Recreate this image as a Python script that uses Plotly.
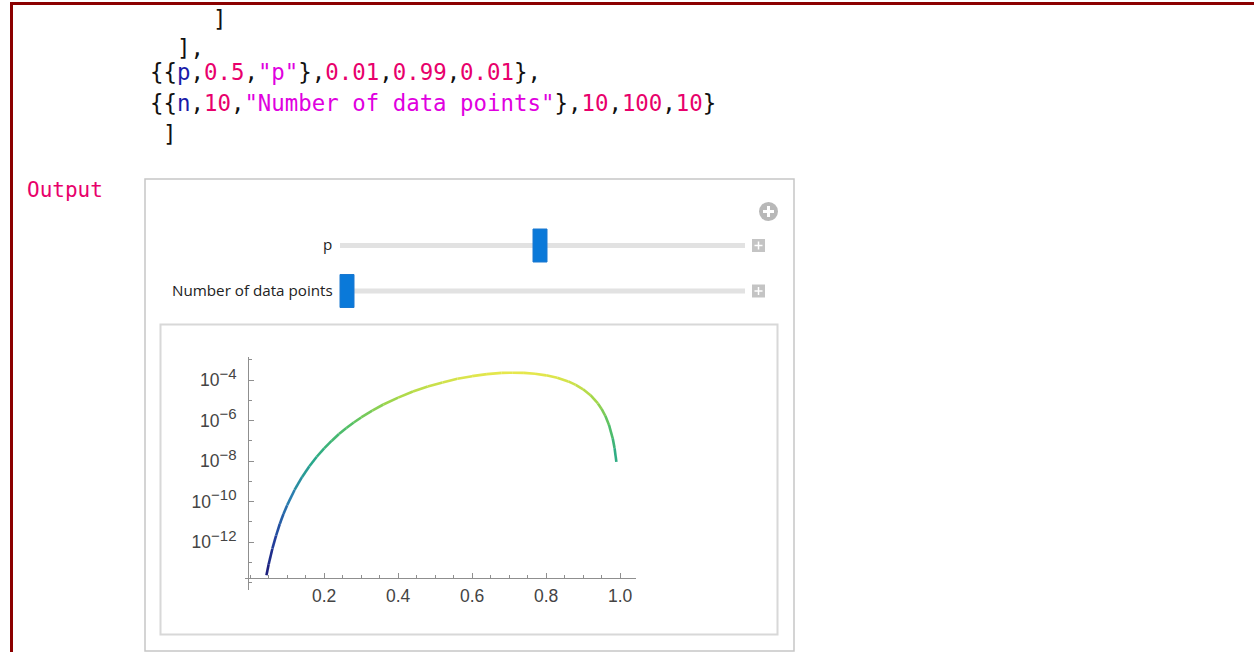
import plotly.graph_objects as go
from plotly.colors import sample_colorscale

W, H = 1254, 652

# ---- data ----
p_values = [0.044, 0.05, 0.06, 0.07, 0.08, 0.09, 0.10, 0.12, 0.14, 0.16, 0.18, 0.20,
            0.22, 0.24, 0.26, 0.28, 0.30, 0.33, 0.36, 0.40, 0.44, 0.48, 0.52, 0.56,
            0.60, 0.64, 0.68, 0.71, 0.74, 0.77, 0.80, 0.83, 0.86, 0.88, 0.90, 0.92,
            0.94, 0.95, 0.96, 0.97, 0.98, 0.985, 0.99]
log10_likelihood = [-13.64, -13.10, -12.33, -11.68, -11.11, -10.62, -10.18, -9.43, -8.80,
                    -8.26, -7.79, -7.38, -7.01, -6.67, -6.37, -6.10, -5.85, -5.51, -5.21,
                    -4.87, -4.57, -4.32, -4.12, -3.94, -3.81, -3.71, -3.65, -3.64, -3.65,
                    -3.69, -3.77, -3.89, -4.07, -4.24, -4.46, -4.75, -5.16, -5.43, -5.77,
                    -6.22, -6.88, -7.36, -8.04]
likelihood = [10 ** v for v in log10_likelihood]

x_tick_vals = [0.2, 0.4, 0.6, 0.8, 1.0]
x_tick_text = ["0.2", "0.4", "0.6", "0.8", "1.0"]
y_tick_vals = [1e-12, 1e-10, 1e-8, 1e-6, 1e-4]
y_exponents = ["\u221212", "\u221210", "\u22128", "\u22126", "\u22124"]
y_tick_text = ['10<sup><span style="font-size:15px">%s</span></sup>' % e for e in y_exponents]
y_minor_vals = [1e-14, 1e-13, 1e-11, 1e-9, 1e-7, 1e-5, 1e-3]

colorscale = [[0.0, '#1b1270'], [0.2, '#223f9c'], [0.4, '#2a7db0'], [0.58, '#29a98a'],
              [0.75, '#55c065'], [0.88, '#a8d84a'], [1.0, '#e6e74c']]


def X(px):
    return px / W


def Y(py):
    return 1 - py / H


fig = go.Figure()

vmin, vmax = -14.0, max(log10_likelihood)
for i in range(len(p_values) - 1):
    t = ((log10_likelihood[i] + log10_likelihood[i + 1]) / 2 - vmin) / (vmax - vmin)
    t = min(max(t, 0), 1)
    col = sample_colorscale(colorscale, [t])[0]
    fig.add_trace(go.Scatter(
        x=[p_values[i], p_values[i + 1]], y=[likelihood[i], likelihood[i + 1]],
        mode='lines', line=dict(color=col, width=2.6), showlegend=False, hoverinfo='skip'))

shapes = []


def add_shape(**kw):
    kw.setdefault('xref', 'paper')
    kw.setdefault('yref', 'paper')
    shapes.append(kw)


# notebook red cell bracket
add_shape(type='line', x0=X(11.5), x1=X(11.5), y0=Y(2), y1=Y(660),
          line=dict(color='#8b0000', width=3))
add_shape(type='line', x0=X(10), x1=X(1260), y0=Y(3.5), y1=Y(3.5),
          line=dict(color='#8b0000', width=3))
# outer panel
add_shape(type='rect', x0=X(145), x1=X(794), y0=Y(179), y1=Y(651),
          line=dict(color='#c6c6c6', width=1.5), fillcolor='#ffffff', layer='below')
# inner plot frame
add_shape(type='rect', x0=X(160.5), x1=X(777.5), y0=Y(324.5), y1=Y(634.5),
          line=dict(color='#d8d8d8', width=2), fillcolor='#ffffff', layer='below')
# circle plus icon
add_shape(type='circle', x0=X(759), x1=X(778), y0=Y(202), y1=Y(221),
          line=dict(color='#b8b8b8', width=0), fillcolor='#b8b8b8')
add_shape(type='line', x0=X(763), x1=X(774), y0=Y(211.5), y1=Y(211.5),
          line=dict(color='white', width=3))
add_shape(type='line', x0=X(768.5), x1=X(768.5), y0=Y(206), y1=Y(217),
          line=dict(color='white', width=3))
# sliders
for ty, thumb_x in [(245.5, 533), (291, 340)]:
    add_shape(type='rect', x0=X(340), x1=X(745), y0=Y(ty - 2.5), y1=Y(ty + 2.5),
              line=dict(width=0), fillcolor='#e2e2e2')
    add_shape(type='rect', x0=X(thumb_x), x1=X(thumb_x + 14), y0=Y(ty - 16.5),
              y1=Y(ty + 16.5), line=dict(color='#1a78d0', width=1), fillcolor='#0a79d9')
    add_shape(type='rect', x0=X(752), x1=X(765), y0=Y(ty - 6.5), y1=Y(ty + 6.5),
              line=dict(width=0), fillcolor='#c4c4c4')
    add_shape(type='line', x0=X(754.5), x1=X(762.5), y0=Y(ty), y1=Y(ty),
              line=dict(color='white', width=1.5))
    add_shape(type='line', x0=X(758.5), x1=X(758.5), y0=Y(ty - 4), y1=Y(ty + 4),
              line=dict(color='white', width=1.5))

annotations = []
mono = "DejaVu Sans Mono, Liberation Mono, monospace"
NUM = '#e8006b'
STR = '#e000e0'
SYM = '#1a1aa8'
line3 = ('{{<span style="color:%s">p</span>,<span style="color:%s">0.5</span>,'
         '<span style="color:%s">"p"</span>},<span style="color:%s">0.01</span>,'
         '<span style="color:%s">0.99</span>,<span style="color:%s">0.01</span>},'
         % (SYM, NUM, STR, NUM, NUM, NUM))
line4 = ('{{<span style="color:%s">n</span>,<span style="color:%s">10</span>,'
         '<span style="color:%s">"Number of data points"</span>},<span style="color:%s">10</span>,'
         '<span style="color:%s">100</span>,<span style="color:%s">10</span>}'
         % (SYM, NUM, STR, NUM, NUM, NUM))
code_lines = [
    ("]", 211, 19),
    ("],", 175, 48),
    (line3, 148, 72),
    (line4, 148, 103),
    ("]", 161, 134),
]
for txt, cx, cy in code_lines:
    annotations.append(dict(text=txt, x=X(cx), y=Y(cy), xref='paper', yref='paper',
                            xanchor='left', yanchor='middle', showarrow=False,
                            font=dict(family=mono, size=22.4, color='#111111')))
annotations.append(dict(text='Output', x=X(25), y=Y(190), xref='paper', yref='paper',
                        xanchor='left', yanchor='middle', showarrow=False,
                        font=dict(family=mono, size=21, color='#e8006b')))
ui_font = dict(family="Open Sans, Noto Sans, sans-serif", size=15.2, color='#222222')
annotations.append(dict(text='p', x=X(334), y=Y(244), xref='paper', yref='paper',
                        xanchor='right', yanchor='middle', showarrow=False, font=ui_font))
annotations.append(dict(text='Number of data points', x=X(335), y=Y(290), xref='paper',
                        yref='paper', xanchor='right', yanchor='middle', showarrow=False,
                        font=ui_font))

axis_font = dict(family="Liberation Sans, Arial, sans-serif", size=17.5, color='#444444')
fig.update_layout(
    width=W, height=H, margin=dict(l=0, r=0, t=0, b=0),
    paper_bgcolor='white', plot_bgcolor='rgba(0,0,0,0)',
    shapes=shapes, annotations=annotations, showlegend=False,
    xaxis=dict(domain=[X(245), X(636)], range=[-0.014, 1.043], anchor='free',
               position=Y(578), showline=True, linecolor='#8f8f8f', linewidth=1,
               showgrid=False, zeroline=False, ticks='inside', ticklen=5,
               tickcolor='#8f8f8f', tickvals=x_tick_vals, ticktext=x_tick_text,
               tickfont=axis_font, ticklabelstandoff=2,
               minor=dict(tickmode='linear', tick0=0, dtick=0.05, ticks='inside',
                          ticklen=3, tickcolor='#8f8f8f', showgrid=False)),
    yaxis=dict(type='log', domain=[Y(590), Y(357)], range=[-14.37, -2.864], anchor='free',
               position=X(248), showline=True, linecolor='#8f8f8f', linewidth=1,
               showgrid=False, zeroline=False, ticks='inside', ticklen=5,
               tickcolor='#8f8f8f', tickvals=y_tick_vals, ticktext=y_tick_text,
               tickfont=axis_font, ticklabelstandoff=8,
               minor=dict(tickmode='array', tickvals=y_minor_vals, ticks='inside',
                          ticklen=3, tickcolor='#8f8f8f', showgrid=False)),
)

fig.write_html("out.html", config={'displayModeBar': False},
               post_script="document.body.style.margin='0';"
                           "document.body.style.overflow='hidden';")
